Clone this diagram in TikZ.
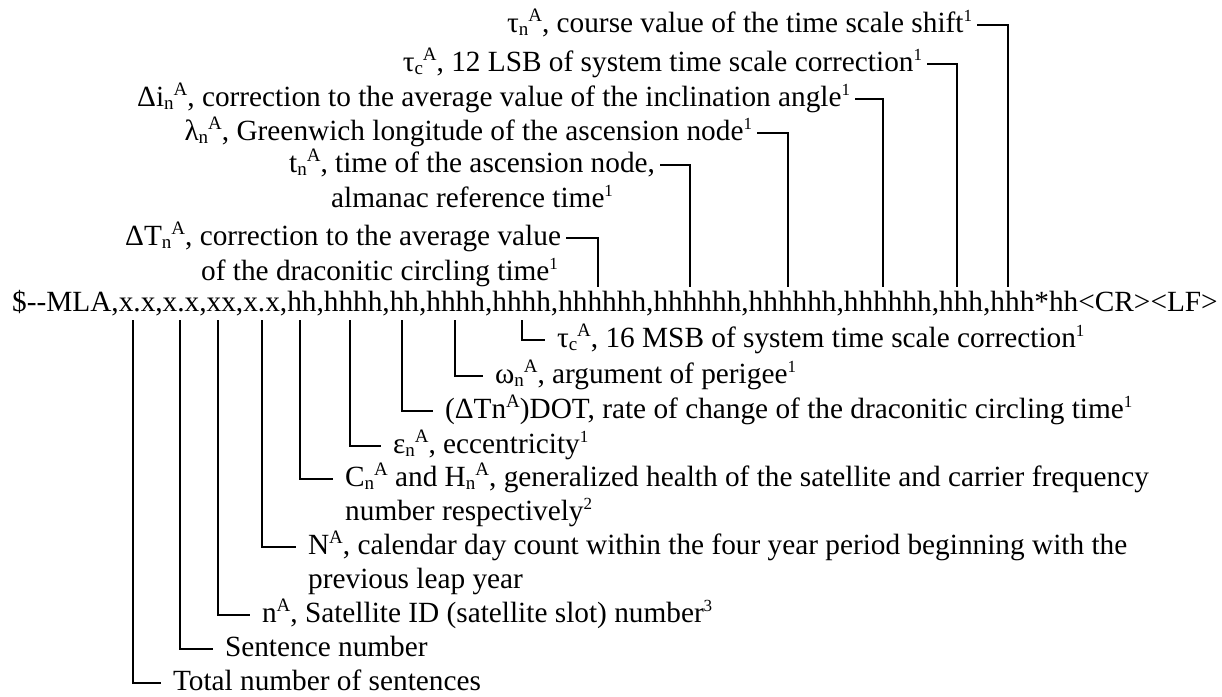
\documentclass[tikz,border=0pt]{standalone}
\usepackage{fontspec}
\setmainfont{Liberation Serif}
\usetikzlibrary{positioning}
\newcommand{\sbs}[1]{\raisebox{-3pt}{\fontsize{19}{19}\selectfont #1}}
\newcommand{\sps}[1]{\raisebox{10.5pt}{\fontsize{19}{19}\selectfont #1}}
\newcommand{\fn}[1]{\raisebox{10.5pt}{\fontsize{17}{17}\selectfont #1}}

\begin{document}
\begin{tikzpicture}[x=1pt,y=-1pt,
every node/.style={inner sep=0pt,text height=20pt,text depth=6pt,
  font=\fontsize{29.3}{34}\selectfont},
toplbl/.style={anchor=east,outer xsep=5pt},
botlbl/.style={anchor=west,outer xsep=12pt},
more/.style={anchor=west},
lnk/.style={line width=2.6pt}]
\useasboundingbox (0,0) rectangle (1222,696);
\node[anchor=base west] (S) at (12,311)
  {\$-{}-MLA,x.x,x.x,xx,x.x,hh,hhhh,hh,hhhh,hhhh,hhhhhh,hhhhhh,hhhhhh,hhhhhh,hhh,hhh*hh<CR><LF>};
\coordinate (b1) at (133,320);
\coordinate (b2) at (180,320);
\coordinate (b3) at (218,320);
\coordinate (b4) at (262,320);
\coordinate (b5) at (300,320);
\coordinate (b6) at (350,320);
\coordinate (b7) at (402,320);
\coordinate (b8) at (455,320);
\coordinate (b9) at (522,320);
\coordinate (t6) at (598,287);
\coordinate (t5) at (690,287);
\coordinate (t4) at (788,287);
\coordinate (t3) at (883,287);
\coordinate (t2) at (957,287);
\coordinate (t1) at (1008,287);
\node[toplbl] (T1) at (977,25) {τ\sbs{n}\sps{A}, course value of the time scale shift\fn{1}};
\node[toplbl] (T2) at (927,64) {τ\sbs{c}\sps{A}, 12 LSB of system time scale correction\fn{1}};
\node[toplbl] (T3) at (855,99) {Δi\sbs{n}\sps{A}, correction to the average value of the inclination angle\fn{1}};
\node[toplbl] (T4) at (757,133) {λ\sbs{n}\sps{A}, Greenwich longitude of the ascension node\fn{1}};
\node[toplbl] (T5) at (660,165) {t\sbs{n}\sps{A}, time of the ascension node,};
\node[more] (T5b) at (331,200) {almanac reference time\fn{1}};
\node[toplbl] (T6) at (566,238) {ΔT\sbs{n}\sps{A}, correction to the average value};
\node[more] (T6b) at (201,273) {of the draconitic circling time\fn{1}};
\node[botlbl] (B9) at (545,340) {τ\sbs{c}\sps{A}, 16 MSB of system time scale correction\fn{1}};
\node[botlbl] (B8) at (483,376) {ω\sbs{n}\sps{A}, argument of perigee\fn{1}};
\node[botlbl] (B7) at (433,411) {(ΔTn\sps{A})DOT, rate of change of the draconitic circling time\fn{1}};
\node[botlbl] (B6) at (381,446) {ε\sbs{n}\sps{A}, eccentricity\fn{1}};
\node[botlbl] (B5) at (333,479) {C\sbs{n}\sps{A} and H\sbs{n}\sps{A}, generalized health of the satellite and carrier frequency};
\node[more] (B5b) at (345,513) {number respectively\fn{2}};
\node[botlbl] (B4) at (296,547) {N\sps{A}, calendar day count within the four year period beginning with the};
\node[more] (B4b) at (308,581) {previous leap year};
\node[botlbl] (B3) at (250,615) {n\sps{A}, Satellite ID (satellite slot) number\fn{3}};
\node[botlbl] (B2) at (213,649) {Sentence number};
\node[botlbl] (B1) at (161,683) {Total number of sentences};
\draw[lnk] (T1.east) -| (t1);
\draw[lnk] (T2.east) -| (t2);
\draw[lnk] (T3.east) -| (t3);
\draw[lnk] (T4.east) -| (t4);
\draw[lnk] (T5.east) -| (t5);
\draw[lnk] (T6.east) -| (t6);
\draw[lnk] (b9) |- (B9.west);
\draw[lnk] (b8) |- (B8.west);
\draw[lnk] (b7) |- (B7.west);
\draw[lnk] (b6) |- (B6.west);
\draw[lnk] (b5) |- (B5.west);
\draw[lnk] (b4) |- (B4.west);
\draw[lnk] (b3) |- (B3.west);
\draw[lnk] (b2) |- (B2.west);
\draw[lnk] (b1) |- (B1.west);
\end{tikzpicture}
\end{document}
